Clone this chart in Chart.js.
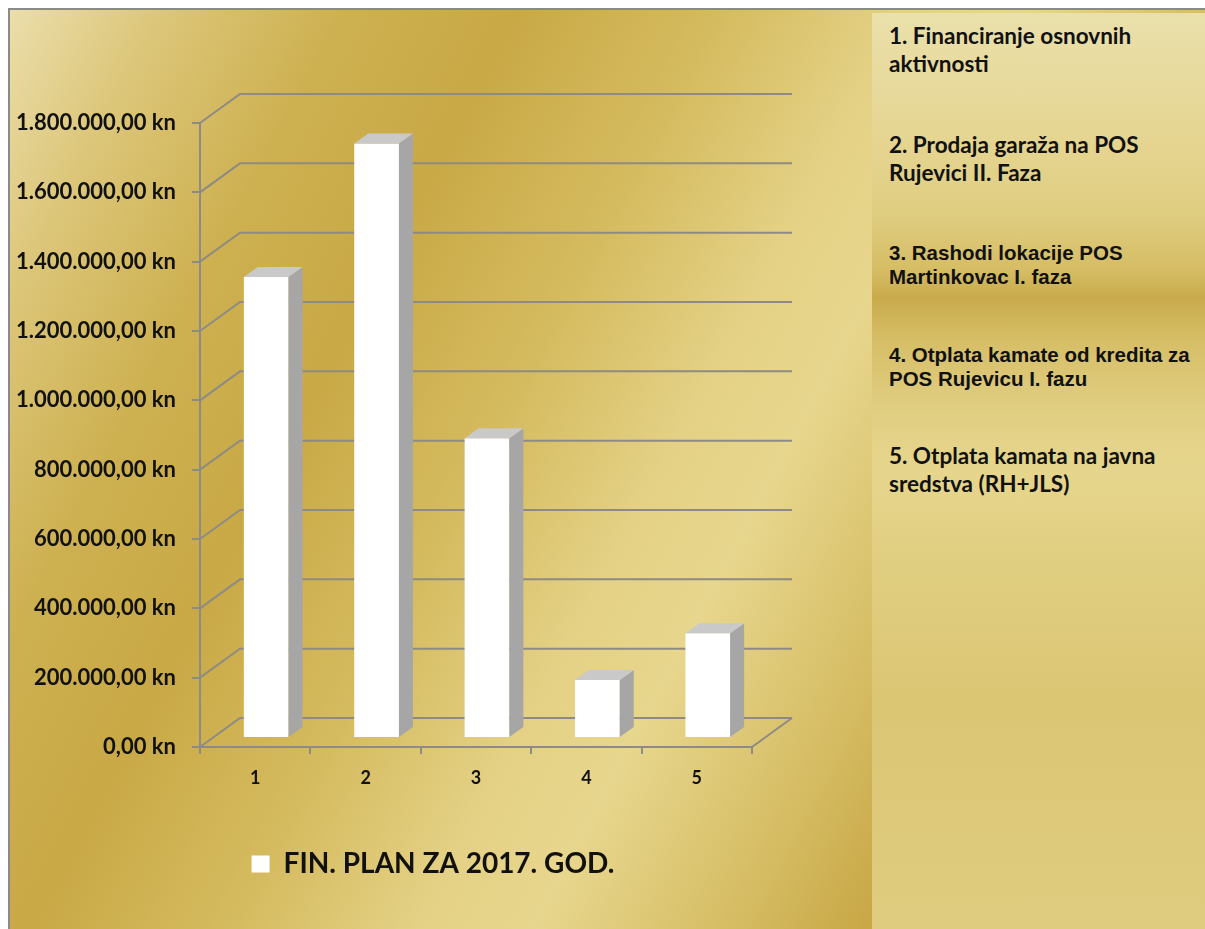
<!DOCTYPE html>
<html>
<head>
<meta charset="utf-8">
<script src="https://cdn.jsdelivr.net/npm/chart.js@4.4.1/dist/chart.umd.min.js"></script>
<style>
  html, body { margin:0; padding:0; background:#ffffff; width:1205px; height:929px; overflow:hidden; }
  #frame { position:absolute; left:8px; top:8px; width:1197px; height:921px; border-top:2px solid #8a8a8a; border-left:2px solid #8a8a8a;
    background: linear-gradient(118deg, #ebdeab 0%, #dcc679 9%, #cdb050 20%, #c9a946 30%, #d5bb5f 42%, #e4d185 53%, #e7d68d 60%, #d8c069 70%, #c8a745 80%, #d3b95c 100%); }
  #wrap { position:absolute; left:10px; top:10px; width:862px; height:919px; }
  #panel { position:absolute; left:872px; top:13px; width:333px; height:916px;
    background: linear-gradient(180deg, #eae0ab 0%, #e5d591 14%, #dfcd80 22%, #d6bd65 28%, #c9ab4c 31%, #d7bf68 36%, #e1cf83 44%, #e6d68d 50%, #e0ce80 60%, #dbc674 75%, #dfcc7e 100%); }
  .item { position:absolute; left:889px; color:#111; font-weight:bold; white-space:nowrap; }
  .cal { font-family:'Lato', sans-serif; font-size:22.5px; line-height:28px; }
  .ari { font-family:'Liberation Sans', Arial, sans-serif; font-size:20.5px; line-height:23.5px; }
</style>
</head>
<body>
<div id="frame"></div>
<div id="wrap"><canvas id="c" width="862" height="919"></canvas></div>
<div id="panel"></div>
<div class="item cal" style="top:22px">1. Financiranje osnovnih<br>aktivnosti</div>
<div class="item cal" style="top:131px">2. Prodaja garaža na POS<br>Rujevici II. Faza</div>
<div class="item ari" style="top:241px">3. Rashodi lokacije POS<br>Martinkovac I. faza</div>
<div class="item ari" style="top:343px">4. Otplata kamate od kredita za<br>POS Rujevicu I. fazu</div>
<div class="item cal" style="top:442px">5. Otplata kamata na javna<br>sredstva (RH+JLS)</div>
<script>
const categories = ['1', '2', '3', '4', '5'];
const seriesLabel = 'FIN. PLAN ZA 2017. GOD.';
const seriesValues = [1330000, 1715000, 865000, 167000, 302000];
const yMin = 0;
const yMax = 1800000;
const yStep = 200000;

function fmtKn(v) {
  const s = Math.round(v).toString().replace(/\B(?=(\d{3})+(?!\d))/g, '.');
  return s + ',00 kn';
}

const GRID = '#8d8b83';
const DX = 40, DY = 29;   // back wall offset
const SX = 11, SY = 9;    // bar front-face depth offset
const BX = 14, BY = 10;   // bar depth

const threeD = {
  id: 'threeD',
  beforeDatasetsDraw(chart) {
    const ctx = chart.ctx;
    const { left, right, bottom } = chart.chartArea;
    const y = chart.scales.y;
    ctx.save();
    ctx.strokeStyle = GRID;
    ctx.lineWidth = 2;
    y.ticks.forEach(t => {
      const py = y.getPixelForValue(t.value);
      ctx.beginPath();
      ctx.moveTo(left, py);
      ctx.lineTo(left + DX, py - DY);
      ctx.lineTo(right + DX, py - DY);
      ctx.stroke();
    });
    ctx.beginPath();
    ctx.moveTo(right, bottom);
    ctx.lineTo(right + DX, bottom - DY);
    ctx.stroke();
    ctx.restore();
    ctx.save();
    ctx.translate(SX, -SY);
  },
  afterDatasetsDraw(chart) {
    const ctx = chart.ctx;
    chart.getDatasetMeta(0).data.forEach(bar => {
      const p = bar.getProps(['x', 'y', 'base', 'width'], true);
      const l = p.x - p.width / 2, r = p.x + p.width / 2;
      ctx.fillStyle = '#a6a6a6';
      ctx.beginPath();
      ctx.moveTo(r, p.y);
      ctx.lineTo(r + BX, p.y - BY);
      ctx.lineTo(r + BX, p.base - BY);
      ctx.lineTo(r, p.base);
      ctx.closePath();
      ctx.fill();
      ctx.fillStyle = '#c9c9c9';
      ctx.beginPath();
      ctx.moveTo(l, p.y);
      ctx.lineTo(l + BX, p.y - BY);
      ctx.lineTo(r + BX, p.y - BY);
      ctx.lineTo(r, p.y);
      ctx.closePath();
      ctx.fill();
    });
    ctx.restore();
  }
};

Chart.defaults.font.family = 'Lato';
Chart.defaults.color = '#111';

new Chart(document.getElementById('c'), {
  type: 'bar',
  data: {
    labels: categories,
    datasets: [{
      label: seriesLabel,
      data: seriesValues,
      backgroundColor: '#ffffff',
      borderWidth: 0,
      barPercentage: 0.405,
      categoryPercentage: 1.0,
      clip: false
    }]
  },
  options: {
    responsive: false,
    animation: false,
    events: [],
    layout: { padding: { top: 113, left: 0, right: 16, bottom: 41 } },
    plugins: {
      tooltip: { enabled: false },
      legend: {
        position: 'bottom',
        labels: {
          boxWidth: 18, boxHeight: 17, padding: 10,
          color: '#111',
          font: { size: 28, weight: 'bold', family: 'Lato' }
        }
      }
    },
    scales: {
      x: {
        grid: { display: true, drawOnChartArea: false, tickLength: 7, color: GRID, lineWidth: 2, offset: true },
        border: { display: true, color: GRID, width: 2 },
        ticks: { padding: 13, color: '#111', font: { size: 18, weight: 'bold' } },
        afterFit(s) { s.height = 93; }
      },
      y: {
        min: yMin, max: yMax,
        grid: { display: true, drawOnChartArea: false, tickLength: 8, color: GRID, lineWidth: 2 },
        border: { display: true, color: GRID, width: 2 },
        ticks: { stepSize: yStep, padding: 16, color: '#111', font: { size: 22, weight: 'bold' }, callback: v => fmtKn(v) },
        afterFit(s) { s.width = 190; }
      },
      y2: {
        position: 'right',
        display: true,
        grid: { display: false },
        border: { display: false },
        ticks: { display: false },
        afterFit(s) { s.width = 104; }
      }
    }
  },
  plugins: [threeD]
});
</script>
</body>
</html>
